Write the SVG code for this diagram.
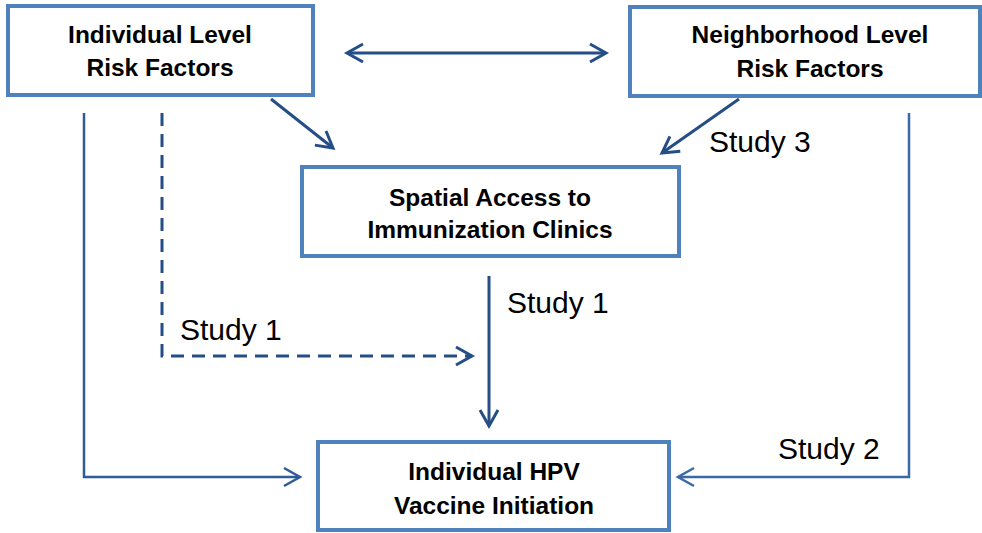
<svg xmlns="http://www.w3.org/2000/svg" width="982" height="533" viewBox="0 0 982 533">
<defs>
<marker id="ahd" markerUnits="userSpaceOnUse" markerWidth="24" markerHeight="24" viewBox="-20 -12 24 24" refX="0" refY="0" orient="auto-start-reverse">
<path d="M-16,-9 L0,0 L-16,9" fill="none" stroke="#254E86" stroke-width="3"/>
</marker>
<marker id="ahl" markerUnits="userSpaceOnUse" markerWidth="24" markerHeight="24" viewBox="-20 -12 24 24" refX="0" refY="0" orient="auto">
<path d="M-16,-9 L0,0 L-16,9" fill="none" stroke="#2F5B97" stroke-width="2.5"/>
</marker>
<marker id="ahr" markerUnits="userSpaceOnUse" markerWidth="24" markerHeight="24" viewBox="-20 -12 24 24" refX="0" refY="0" orient="auto">
<path d="M-16,-9 L0,0 L-16,9" fill="none" stroke="#3A6AA6" stroke-width="2.5"/>
</marker>
</defs>
<style>
.box{fill:#fff;stroke:#4F81BD;stroke-width:4}
.bt{font-family:"Liberation Sans",Arial,sans-serif;font-weight:bold;font-size:24.5px;fill:#000;text-anchor:middle}
.lbl{font-family:"Liberation Sans",Arial,sans-serif;font-size:30px;fill:#000}
.c{fill:none;stroke:#254E86;stroke-width:3}
</style>
<rect width="982" height="533" fill="#fff"/>
<g id="connectors">
<line class="c" x1="347" y1="53" x2="606" y2="53" marker-start="url(#ahd)" marker-end="url(#ahd)"/>
<line class="c" x1="271" y1="99" x2="333" y2="148" marker-end="url(#ahd)"/>
<line class="c" x1="739" y1="99" x2="662" y2="153" marker-end="url(#ahd)"/>
<line class="c" x1="489" y1="276" x2="489" y2="426" marker-end="url(#ahd)"/>
<polyline class="c" points="162,113 162,356 472,356" stroke-dasharray="13,8" marker-end="url(#ahd)"/>
<polyline points="84,113 84,477 300,477" fill="none" stroke="#2F5B97" stroke-width="2.5" marker-end="url(#ahl)"/>
<polyline points="909,113 909,477 678,477" fill="none" stroke="#3A6AA6" stroke-width="2.5" marker-end="url(#ahr)"/>
</g>
<g id="n-individual">
<rect class="box" x="8" y="6" width="305" height="89"/>
<text class="bt" x="160" y="43">Individual Level</text>
<text class="bt" x="160" y="76">Risk Factors</text>
</g>
<g id="n-neighborhood">
<rect class="box" x="630" y="7" width="350" height="89"/>
<text class="bt" x="810" y="43">Neighborhood Level</text>
<text class="bt" x="810" y="77">Risk Factors</text>
</g>
<g id="n-spatial">
<rect class="box" x="302" y="167" width="377" height="89"/>
<text class="bt" x="490" y="206">Spatial Access to</text>
<text class="bt" x="490" y="238">Immunization Clinics</text>
</g>
<g id="n-hpv">
<rect class="box" x="318" y="442" width="351" height="88"/>
<text class="bt" x="494" y="480">Individual HPV</text>
<text class="bt" x="494" y="514">Vaccine Initiation</text>
</g>
<g id="labels">
<text class="lbl" x="709" y="152">Study 3</text>
<text class="lbl" x="507" y="313">Study 1</text>
<text class="lbl" x="180" y="340">Study 1</text>
<text class="lbl" x="778" y="459">Study 2</text>
</g>
</svg>
